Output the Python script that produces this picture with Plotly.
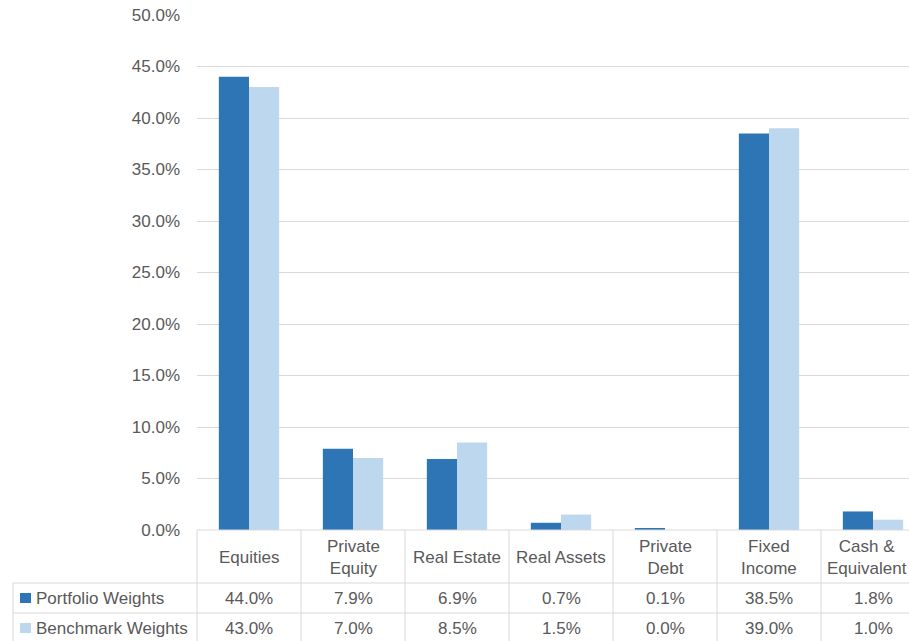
import plotly.graph_objects as go

# Asset-class weights (percent)
categories = ["Equities", "Private<br>Equity", "Real Estate", "Real Assets",
              "Private<br>Debt", "Fixed<br>Income", "Cash &<br>Equivalent"]
portfolio_weights = [44.0, 7.9, 6.9, 0.7, 0.1, 38.5, 1.8]
benchmark_weights = [43.0, 7.0, 8.5, 1.5, 0.0, 39.0, 1.0]
series_names = ["Portfolio Weights", "Benchmark Weights"]
y_ticks = [0, 5, 10, 15, 20, 25, 30, 35, 40, 45, 50]

W, H = 909, 641
DARK = "#2e75b6"
LIGHT = "#bdd7ee"
GRID = "#d9d9d9"
TXT = "#595959"
FONT = "Liberation Sans, Arial, sans-serif"

# plot-area geometry in pixels
X0, Y_TOP, Y_ZERO = 197, 15, 530
COL_W = 104
ROW1, ROW2 = 583, 613
TABLE_LEFT = 13


def px(x):
    return x / W


def py(y):
    return 1 - y / H


idx = list(range(len(categories)))
fig = go.Figure()
fig.add_trace(go.Bar(x=idx, y=[v / 100 for v in portfolio_weights], name=series_names[0],
                     marker=dict(color=DARK, line=dict(width=0))))
fig.add_trace(go.Bar(x=idx, y=[v / 100 for v in benchmark_weights], name=series_names[1],
                     marker=dict(color=LIGHT, line=dict(width=0))))

x_max = -0.5 + (W - X0) / COL_W

shapes = []
# data-table grid
line = dict(color=GRID, width=1)
shapes.append(dict(type="line", xref="paper", yref="paper", x0=px(X0), x1=1,
                   y0=py(Y_ZERO), y1=py(Y_ZERO), line=line))
for yy in (ROW1, ROW2):
    shapes.append(dict(type="line", xref="paper", yref="paper", x0=px(TABLE_LEFT), x1=1,
                       y0=py(yy), y1=py(yy), line=line))
shapes.append(dict(type="line", xref="paper", yref="paper", x0=px(TABLE_LEFT), x1=px(TABLE_LEFT),
                   y0=py(ROW1), y1=0, line=line))
for i in range(len(categories)):
    xx = X0 + i * COL_W
    shapes.append(dict(type="line", xref="paper", yref="paper", x0=px(xx), x1=px(xx),
                       y0=py(Y_ZERO), y1=0, line=line))
# legend keys
for (yc, col) in ((598, DARK), (628, LIGHT)):
    shapes.append(dict(type="rect", xref="paper", yref="paper", x0=px(20), x1=px(31),
                       y0=py(yc - 5), y1=py(yc + 5), fillcolor=col, line=dict(width=0)))

cell_font = dict(size=17, color=TXT, family=FONT)
annotations = []
last = len(categories) - 1
for i, c in enumerate(categories):
    # the last column runs past the right edge, so nudge its header left to stay visible
    annotations.append(dict(x=i, xref="x", y=py(557), yref="paper", text=c, showarrow=False,
                            xanchor="center", yanchor="middle", font=cell_font, align="center",
                            xshift=-6 if i == last else 0))
    annotations.append(dict(x=i, xref="x", y=py(598), yref="paper",
                            text=f"{portfolio_weights[i]:.1f}%", showarrow=False,
                            xanchor="center", yanchor="middle", font=cell_font))
    annotations.append(dict(x=i, xref="x", y=py(628), yref="paper",
                            text=f"{benchmark_weights[i]:.1f}%", showarrow=False,
                            xanchor="center", yanchor="middle", font=cell_font))
for name, yc in zip(series_names, (598, 628)):
    annotations.append(dict(x=px(34), xref="paper", y=py(yc), yref="paper", text=name,
                            showarrow=False, xanchor="left", yanchor="middle", font=cell_font))

fig.update_layout(
    width=W, height=H,
    margin=dict(l=0, r=0, t=0, b=0, pad=0, autoexpand=False),
    paper_bgcolor="white", plot_bgcolor="white",
    barmode="group", bargap=0.42, bargroupgap=0,
    showlegend=False,
    font=dict(family=FONT, size=17, color=TXT),
    xaxis=dict(domain=[px(X0), 1], range=[-0.5, x_max], showticklabels=False,
               showgrid=False, zeroline=False, showline=False, fixedrange=True,
               automargin=False),
    yaxis=dict(domain=[py(Y_ZERO), py(Y_TOP)], range=[0, 0.5],
               tickvals=[t / 100 for t in y_ticks], tickformat=".1%",
               showgrid=True, gridcolor=GRID, gridwidth=1, zeroline=False,
               showline=False, ticks="", ticklabelstandoff=16, automargin=False,
               tickfont=dict(size=17, color=TXT, family=FONT)),
    shapes=shapes, annotations=annotations,
)

fig.write_html("out.html")
